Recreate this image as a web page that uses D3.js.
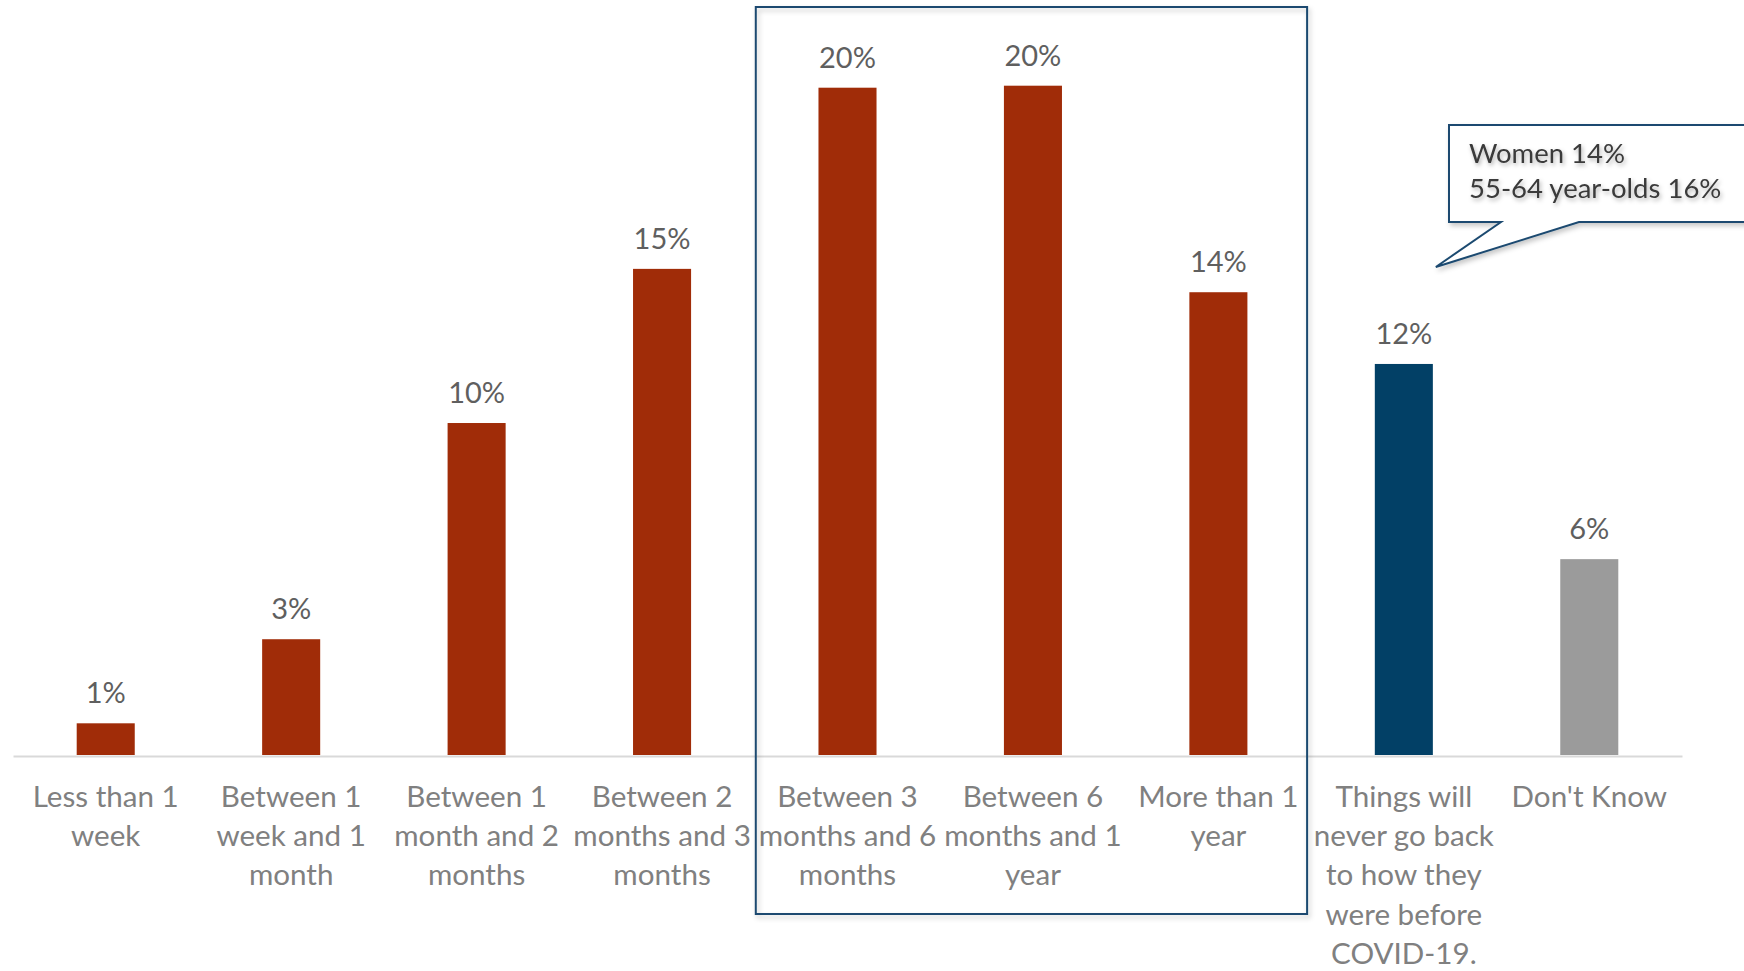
<!DOCTYPE html>
<html>
<head>
<meta charset="utf-8">
<script src="https://cdn.jsdelivr.net/npm/d3@7"></script>
<style>
  html, body { margin: 0; padding: 0; background: #ffffff; }
  svg { display: block; font-family: "Source Sans Pro", Lato, "Open Sans", sans-serif; }
</style>
</head>
<body>
<svg id="chart" width="1744" height="971"></svg>
<script>
// Survey answers: how long until things go back to normal
const categories = [
  "Less than 1\nweek",
  "Between 1\nweek and 1\nmonth",
  "Between 1\nmonth and 2\nmonths",
  "Between 2\nmonths and 3\nmonths",
  "Between 3\nmonths and 6\nmonths",
  "Between 6\nmonths and 1\nyear",
  "More than 1\nyear",
  "Things will\nnever go back\nto how they\nwere before\nCOVID-19.",
  "Don't Know"
];
const shares = [0.0095, 0.0347, 0.0995, 0.1457, 0.2000, 0.2006, 0.1387, 0.1172, 0.0587];
const answerGroups = ["timeframe", "timeframe", "timeframe", "timeframe", "timeframe",
                      "timeframe", "timeframe", "never", "unknown"];
// Answers grouped inside the highlight frame
const highlighted = ["Between 3\nmonths and 6\nmonths", "More than 1\nyear"];
const calloutLines = ["Women 14%", "55-64 year-olds 16%"];

const svg = d3.select("#chart");
const width = 1744;

const x = d3.scaleBand().domain(categories).range([13, 1682]).padding(0);
const barWidth = x.bandwidth() * 0.313;
const y = d3.scaleLinear().domain([0, 0.2]).range([755, 87.7]);
const color = d3.scaleOrdinal()
  .domain(["timeframe", "never", "unknown"])
  .range(["#A02C08", "#024066", "#9B9B9B"]);
const pct = d3.format(".0%");

const data = categories.map((c, i) => ({ cat: c, v: shares[i], g: answerGroups[i] }));

// Soft shadows for the frame, callout and callout text
const defs = svg.append("defs");
const sh = defs.append("filter").attr("id", "boxShadow")
  .attr("x", "-5%").attr("y", "-5%").attr("width", "110%").attr("height", "110%");
sh.append("feDropShadow").attr("dx", 2).attr("dy", 3).attr("stdDeviation", 2.5)
  .attr("flood-color", "#000").attr("flood-opacity", 0.22);
const tsh = defs.append("filter").attr("id", "textShadow")
  .attr("x", "-10%").attr("y", "-30%").attr("width", "120%").attr("height", "160%");
tsh.append("feDropShadow").attr("dx", 1.5).attr("dy", 2.5).attr("stdDeviation", 2)
  .attr("flood-color", "#000").attr("flood-opacity", 0.3);

// Baseline axis
const xAxis = d3.axisBottom(x).tickSize(0).tickFormat("");
const axisG = svg.append("g").attr("transform", `translate(0,${y(0) + 1})`).call(xAxis);
axisG.select(".domain").attr("stroke", "#D9D9D9").attr("stroke-width", 2);

// Bars
svg.append("g").selectAll("rect").data(data).join("rect")
  .attr("x", d => x(d.cat) + (x.bandwidth() - barWidth) / 2)
  .attr("width", barWidth)
  .attr("y", d => y(d.v))
  .attr("height", d => y(0) - y(d.v))
  .attr("fill", d => color(d.g));

// Value labels
svg.append("g").selectAll("text").data(data).join("text")
  .attr("x", d => x(d.cat) + x.bandwidth() / 2)
  .attr("y", d => y(d.v) - 20)
  .attr("text-anchor", "middle")
  .attr("font-size", 29)
  .attr("fill", "#5F5F5F")
  .text(d => pct(d.v));

// Category labels, one tspan per line
const catLabels = svg.append("g").selectAll("text").data(data).join("text")
  .attr("text-anchor", "middle")
  .attr("font-size", 29.6)
  .attr("fill", "#808080")
  .attr("transform", d => `translate(${x(d.cat) + x.bandwidth() / 2},807)`);
catLabels.selectAll("tspan").data(d => d.cat.split("\n")).join("tspan")
  .attr("x", 0)
  .attr("y", (d, i) => i * 39.2)
  .text(d => d);

// Highlight frame around the longer timeframes
const frameLeft = x(highlighted[0]) + 1;
const frameRight = x(highlighted[1]) + x.bandwidth() - 4;
svg.append("rect")
  .attr("x", frameLeft).attr("y", 7)
  .attr("width", frameRight - frameLeft).attr("height", 907)
  .attr("fill", "none")
  .attr("stroke", "#1B4A70").attr("stroke-width", 2)
  .attr("filter", "url(#boxShadow)");

// Callout pointing at the "never go back" bar
const neverCat = categories[7];
const tipX = x(neverCat) + x.bandwidth() / 2 + 32;
const tipY = y(shares[7]) - 97;
const boxL = 1449, boxT = 125, boxB = 222;
const callout = d3.path();
callout.moveTo(boxL, boxT);
callout.lineTo(width + 20, boxT);
callout.lineTo(width + 20, boxB);
callout.lineTo(1579, boxB);
callout.lineTo(tipX, tipY);
callout.lineTo(1501, boxB);
callout.lineTo(boxL, boxB);
callout.closePath();
svg.append("path")
  .attr("d", callout.toString())
  .attr("fill", "#ffffff")
  .attr("stroke", "#1B4A70").attr("stroke-width", 2)
  .attr("stroke-linejoin", "miter")
  .attr("filter", "url(#boxShadow)");

svg.append("g").attr("filter", "url(#textShadow)")
  .selectAll("text").data(calloutLines).join("text")
  .attr("x", 1469)
  .attr("y", (d, i) => 163 + i * 35)
  .attr("font-size", 27.5)
  .attr("fill", "#3A3A3A")
  .text(d => d);
</script>
</body>
</html>
